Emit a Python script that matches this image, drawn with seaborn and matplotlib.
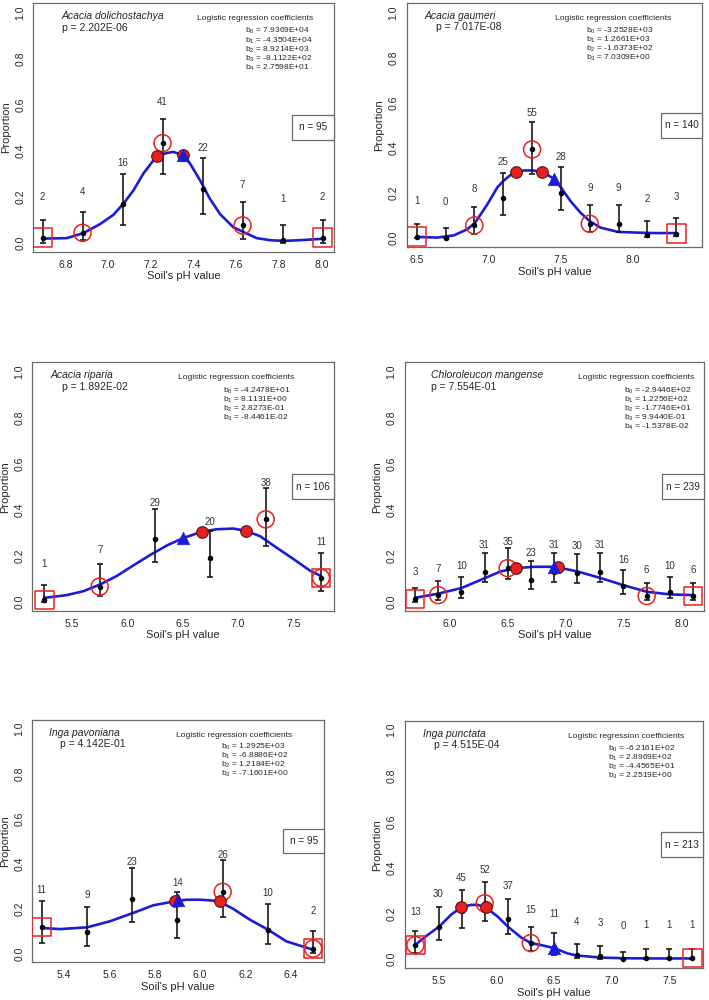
import numpy as np
import matplotlib
matplotlib.use("Agg")
import matplotlib.pyplot as plt
import matplotlib.patches as mpatches
import seaborn as sns

# ---------------- data ----------------
# Acacia dolichostachya
dol_ph = [6.694, 6.881, 7.069, 7.256, 7.444, 7.631, 7.819, 8.006]
dol_count = [2, 4, 16, 41, 22, 7, 1, 2]
dol_prop = [0.021, 0.042, 0.168, 0.432, 0.232, 0.074, 0.011, 0.021]
dol_lo = [0.0, 0.010, 0.076, 0.296, 0.124, 0.017, 0.0, 0.0]
dol_hi = [0.098, 0.131, 0.296, 0.539, 0.369, 0.176, 0.077, 0.098]
dol_curve_ph = [6.694, 6.807, 6.885, 6.963, 7.025, 7.072, 7.119, 7.166, 7.213, 7.232, 7.275, 7.307,
                7.350, 7.385, 7.432, 7.478, 7.525, 7.588, 7.639, 7.697, 7.760, 7.822, 7.900, 8.005]
dol_curve_p = [0.017, 0.019, 0.041, 0.080, 0.120, 0.168, 0.226, 0.300, 0.357, 0.375, 0.389, 0.394,
               0.379, 0.343, 0.270, 0.190, 0.124, 0.066, 0.044, 0.019, 0.010, 0.007, 0.010, 0.016]
dol_red_ph = [7.232, 7.350]
dol_red_p = [0.375, 0.379]
dol_tri = (7.350, 0.379)
dol_ring = [1, 3, 5]

# Acacia gaumeri
gau_ph = [6.5, 6.7, 6.9, 7.1, 7.3, 7.5, 7.7, 7.9, 8.1, 8.3]
gau_count = [1, 0, 8, 25, 55, 28, 9, 9, 2, 3]
gau_prop = [0.007, 0.0, 0.057, 0.179, 0.393, 0.200, 0.064, 0.064, 0.014, 0.021]
gau_lo = [0.0, 0.0, 0.020, 0.102, 0.285, 0.123, 0.028, 0.028, 0.007, 0.010]
gau_hi = [0.064, 0.047, 0.139, 0.290, 0.515, 0.315, 0.149, 0.149, 0.076, 0.091]
gau_curve_ph = [6.5, 6.643, 6.759, 6.851, 6.902, 6.99, 7.059, 7.103, 7.151, 7.191, 7.244, 7.306,
                7.371, 7.452, 7.502, 7.567, 7.636, 7.699, 7.775, 7.897, 8.029, 8.144, 8.299]
gau_curve_p = [0.006, 0.003, 0.013, 0.040, 0.066, 0.150, 0.225, 0.255, 0.280, 0.293, 0.300, 0.300,
               0.293, 0.264, 0.223, 0.164, 0.113, 0.076, 0.047, 0.028, 0.025, 0.023, 0.023]
gau_red_ph = [7.191, 7.371]
gau_red_p = [0.293, 0.293]
gau_tri = (7.452, 0.264)
gau_ring = [2, 4, 6]

# Acacia riparia
rip_ph = [5.25, 5.75, 6.25, 6.75, 7.25, 7.75]
rip_count = [1, 7, 29, 20, 38, 11]
rip_prop = [0.009, 0.066, 0.274, 0.189, 0.358, 0.104]
rip_lo = [0.0, 0.026, 0.172, 0.106, 0.244, 0.047]
rip_hi = [0.075, 0.163, 0.404, 0.308, 0.494, 0.211]
rip_curve_ph = [5.25, 5.452, 5.602, 5.753, 5.904, 6.054, 6.205, 6.355, 6.5, 6.672, 6.807, 6.958,
                7.069, 7.199, 7.349, 7.5, 7.651, 7.75]
rip_curve_p = [0.017, 0.029, 0.046, 0.075, 0.112, 0.158, 0.203, 0.244, 0.276, 0.304, 0.315, 0.318,
               0.308, 0.285, 0.235, 0.186, 0.135, 0.112]
rip_red_ph = [6.672, 7.069]
rip_red_p = [0.304, 0.308]
rip_tri = (6.5, 0.276)
rip_ring = [1, 4, 5]

# Chloroleucon mangense
chl_ph = [5.7, 5.9, 6.1, 6.3, 6.5, 6.7, 6.9, 7.1, 7.3, 7.5, 7.7, 7.9, 8.1]
chl_count = [3, 7, 10, 31, 35, 23, 31, 30, 31, 16, 6, 10, 6]
chl_prop = [0.013, 0.029, 0.042, 0.130, 0.146, 0.096, 0.130, 0.126, 0.130, 0.067, 0.025, 0.042, 0.025]
chl_lo = [0.0, 0.008, 0.016, 0.086, 0.100, 0.056, 0.086, 0.083, 0.086, 0.033, 0.007, 0.016, 0.007]
chl_hi = [0.062, 0.090, 0.107, 0.213, 0.234, 0.176, 0.213, 0.209, 0.213, 0.139, 0.082, 0.107, 0.082]
chl_curve_ph = [5.7, 5.907, 6.103, 6.304, 6.44, 6.575, 6.727, 6.903, 6.935, 7.101, 7.303, 7.499,
                7.706, 7.901, 8.1]
chl_curve_p = [0.017, 0.036, 0.060, 0.103, 0.132, 0.146, 0.152, 0.152, 0.149, 0.132, 0.103, 0.072,
               0.043, 0.032, 0.029]
chl_red_ph = [6.575, 6.935]
chl_red_p = [0.146, 0.149]
chl_tri = (6.903, 0.153)
chl_ring = [1, 4, 10]

# Inga pavoniana
pav_ph = [5.3, 5.5, 5.7, 5.9, 6.1, 6.3, 6.5]
pav_count = [11, 9, 23, 14, 26, 10, 2]
pav_prop = [0.116, 0.095, 0.242, 0.147, 0.274, 0.105, 0.021]
pav_lo = [0.046, 0.034, 0.138, 0.068, 0.162, 0.042, 0.0]
pav_hi = [0.232, 0.207, 0.380, 0.272, 0.415, 0.221, 0.098]
pav_curve_ph = [5.3, 5.381, 5.502, 5.602, 5.705, 5.793, 5.889, 5.941, 6.0, 6.058, 6.088, 6.147,
                6.22, 6.301, 6.382, 6.5]
pav_curve_p = [0.113, 0.108, 0.116, 0.143, 0.180, 0.214, 0.232, 0.239, 0.239, 0.235, 0.229, 0.198,
               0.150, 0.105, 0.053, 0.016]
pav_red_ph = [5.889, 6.088]
pav_red_p = [0.232, 0.232]
pav_tri = (5.901, 0.236)
pav_ring = [4, 6]

# Inga punctata
pun_ph = [5.3, 5.5, 5.7, 5.9, 6.1, 6.3, 6.5, 6.7, 6.9, 7.1, 7.3, 7.5, 7.7]
pun_count = [13, 30, 45, 52, 37, 15, 11, 4, 3, 0, 1, 1, 1]
pun_prop = [0.061, 0.141, 0.211, 0.244, 0.174, 0.070, 0.052, 0.019, 0.014, 0.0, 0.005, 0.005, 0.005]
pun_lo = [0.027, 0.083, 0.138, 0.167, 0.109, 0.036, 0.019, 0.004, 0.001, 0.0, 0.0, 0.0, 0.0]
pun_hi = [0.125, 0.226, 0.303, 0.339, 0.262, 0.140, 0.114, 0.066, 0.058, 0.033, 0.044, 0.044, 0.044]
pun_curve_ph = [5.3, 5.407, 5.508, 5.609, 5.695, 5.782, 5.839, 5.911, 6.012, 6.099, 6.214, 6.301,
                6.402, 6.503, 6.618, 6.699, 6.898, 7.103, 7.368, 7.7]
pun_curve_p = [0.063, 0.106, 0.143, 0.194, 0.226, 0.237, 0.237, 0.226, 0.186, 0.143, 0.095, 0.070,
               0.060, 0.048, 0.025, 0.016, 0.007, 0.004, 0.003, 0.003]
pun_red_ph = [5.695, 5.911]
pun_red_p = [0.226, 0.226]
pun_tri = (6.503, 0.048)
pun_ring = [0, 3, 5]

species = ["Acacia dolichostachya", "Acacia gaumeri", "Acacia riparia",
           "Chloroleucon mangense", "Inga pavoniana", "Inga punctata"]
p_values = ["2.202E-06", "7.017E-08", "1.892E-02", "7.554E-01", "4.142E-01", "4.515E-04"]
n_totals = [95, 140, 106, 239, 95, 213]
coefs = [
    ["7.9369E+04", "-4.3504E+04", "8.9214E+03", "-8.1122E+02", "2.7598E+01"],
    ["-3.2528E+03", "1.2661E+03", "-1.6373E+02", "7.0309E+00"],
    ["-4.2478E+01", "8.1131E+00", "2.8273E-01", "-8.4461E-02"],
    ["-2.9446E+02", "1.2256E+02", "-1.7746E+01", "9.9440E-01", "-1.5378E-02"],
    ["1.2925E+03", "-6.8886E+02", "1.2184E+02", "-7.1601E+00"],
    ["-6.2161E+02", "2.8969E+02", "-4.4565E+01", "2.2519E+00"],
]

# ---------------- layout (pixels on a 709x1000 canvas) ----------------
W, H = 709.0, 1000.0
boxes = [(33.3, 334.3, 3.3, 251.7), (406.7, 702.3, 3.3, 247.3),
         (32.3, 334.3, 362.3, 611.0), (404.7, 704.0, 362.3, 611.0),
         (32.3, 324.3, 720.0, 962.3), (404.7, 703.0, 721.0, 968.3)]
xlims = [(6.650, 8.061), (6.431, 8.480), (5.141, 7.870),
         (5.611, 8.195), (5.259, 6.549), (5.207, 7.792)]
xticks = [np.arange(6.8, 8.01, 0.2), np.arange(6.5, 8.01, 0.5), np.arange(5.5, 7.51, 0.5),
          np.arange(6.0, 8.01, 0.5), np.arange(5.4, 6.41, 0.2), np.arange(5.5, 7.51, 0.5)]
label_lift = [0.178, 0.160, 0.157, 0.115, 0.166, 0.145]
# text anchors in axes fraction: species x, p x, coefficient-title centre x, b-lines left x
txt_pos = [(0.094, 0.094, 0.738, 0.703), (0.059, 0.098, 0.698, 0.608),
           (0.061, 0.099, 0.674, 0.630), (0.087, 0.087, 0.772, 0.733),
           (0.058, 0.095, 0.691, 0.646), (0.061, 0.098, 0.741, 0.683)]

panels = [
    (dol_ph, dol_count, dol_prop, dol_lo, dol_hi, dol_curve_ph, dol_curve_p, dol_red_ph, dol_red_p, dol_tri, dol_ring),
    (gau_ph, gau_count, gau_prop, gau_lo, gau_hi, gau_curve_ph, gau_curve_p, gau_red_ph, gau_red_p, gau_tri, gau_ring),
    (rip_ph, rip_count, rip_prop, rip_lo, rip_hi, rip_curve_ph, rip_curve_p, rip_red_ph, rip_red_p, rip_tri, rip_ring),
    (chl_ph, chl_count, chl_prop, chl_lo, chl_hi, chl_curve_ph, chl_curve_p, chl_red_ph, chl_red_p, chl_tri, chl_ring),
    (pav_ph, pav_count, pav_prop, pav_lo, pav_hi, pav_curve_ph, pav_curve_p, pav_red_ph, pav_red_p, pav_tri, pav_ring),
    (pun_ph, pun_count, pun_prop, pun_lo, pun_hi, pun_curve_ph, pun_curve_p, pun_red_ph, pun_red_p, pun_tri, pun_ring),
]

sns.set_style("white")
plt.rcParams['font.family'] = ['Liberation Sans', 'DejaVu Sans']
plt.rcParams['mathtext.fontset'] = 'custom'
plt.rcParams['mathtext.rm'] = 'Liberation Sans'
plt.rcParams['mathtext.it'] = 'Liberation Sans'

RED = "#e8201f"
BLUE = "#1c1cd8"
TXT = "#262626"
EDGE = "#6a6a6a"

fig = plt.figure(figsize=(W / 100, H / 100), dpi=100)

for i, (ph, count, prop, lo, hi, cph, cp, rph, rp, tri, ring) in enumerate(panels):
    L, R, T, B = boxes[i]
    ax = fig.add_axes([L / W, 1 - B / H, (R - L) / W, (B - T) / H])
    ph = np.array(ph)
    prop = np.array(prop)

    # fitted logistic curve
    sns.lineplot(x=cph, y=cp, ax=ax, sort=False, color=BLUE, lw=1.9, zorder=3)

    # confidence intervals
    err = np.vstack([prop - np.array(lo), np.array(hi) - prop])
    ax.errorbar(ph, prop, yerr=err, fmt="none", ecolor="#1a1a1a", elinewidth=1.2,
                capsize=2.5, capthick=1.2, zorder=4)
    sns.scatterplot(x=ph, y=prop, ax=ax, color="black", s=16, linewidth=0, zorder=5)

    # open markers
    ax.scatter(ph[ring], prop[ring], s=150, marker="o", facecolors="none",
               edgecolors=RED, linewidths=1.1, zorder=6)
    ends = [0, len(ph) - 1]
    ax.scatter(ph[ends], prop[ends], s=175, marker="s", facecolors="none",
               edgecolors=RED, linewidths=1.1, zorder=6)

    # filled markers on the curve
    sns.scatterplot(x=rph, y=rp, ax=ax, color=RED, s=70, edgecolor="#5a1010",
                    linewidth=0.8, zorder=7)
    sns.scatterplot(x=[tri[0]], y=[tri[1]], ax=ax, color=BLUE, marker="^", s=80,
                    edgecolor=BLUE, linewidth=0.5, zorder=8)

    # sample counts
    for x, c, p in zip(ph, count, prop):
        ax.text(x, p + label_lift[i], str(c), ha="center", va="center",
                fontsize=7, color="#333333")

    # axes styling (R-like)
    ax.set_xlim(*xlims[i])
    ax.set_ylim(-0.04, 1.04)
    ax.set_xticks(xticks[i])
    ax.set_xticklabels([f"{t:.1f}" for t in xticks[i]])
    yt = np.arange(0, 1.01, 0.2)
    ax.set_yticks(yt)
    ax.set_yticklabels([f"{t:.1f}" for t in yt], rotation=90, va="center")
    ax.tick_params(direction="out", length=3.8, width=0.8, color=EDGE,
                   labelsize=7.5, labelcolor=TXT, pad=2)
    for s in ax.spines.values():
        s.set_color(EDGE)
        s.set_linewidth(0.9)
    ax.set_xlabel("Soil's pH value", fontsize=8, color=TXT, labelpad=1)
    ax.set_ylabel("Proportion", fontsize=8, color=TXT, labelpad=3)

    # annotations
    sx, px, cx, bx = txt_pos[i]
    ax.text(sx, 0.947, species[i], transform=ax.transAxes, fontsize=7.5,
            style="italic", color=TXT, ha="left", va="center")
    ax.text(px, 0.902, "p = " + p_values[i], transform=ax.transAxes, fontsize=7.5,
            color=TXT, ha="left", va="center")
    ax.text(cx, 0.937, "Logistic regression coefficients", transform=ax.transAxes,
            fontsize=6.1, color=TXT, ha="center", va="center")
    for k, c in enumerate(coefs[i]):
        ax.text(bx, 0.887 - 0.037 * k, "b$_{%d}$ = %s" % (k, c), transform=ax.transAxes,
                fontsize=6.0, color=TXT, ha="left", va="center")

    # n box
    ax.add_patch(mpatches.Rectangle((0.86, 0.45), 0.14, 0.10, transform=ax.transAxes,
                                    facecolor="white", edgecolor=EDGE, lw=0.9,
                                    clip_on=False, zorder=9))
    ax.text(0.93, 0.50, "n = %d" % n_totals[i], transform=ax.transAxes, fontsize=7.2,
            color=TXT, ha="center", va="center", zorder=10)

fig.savefig("out.png", dpi=100)
